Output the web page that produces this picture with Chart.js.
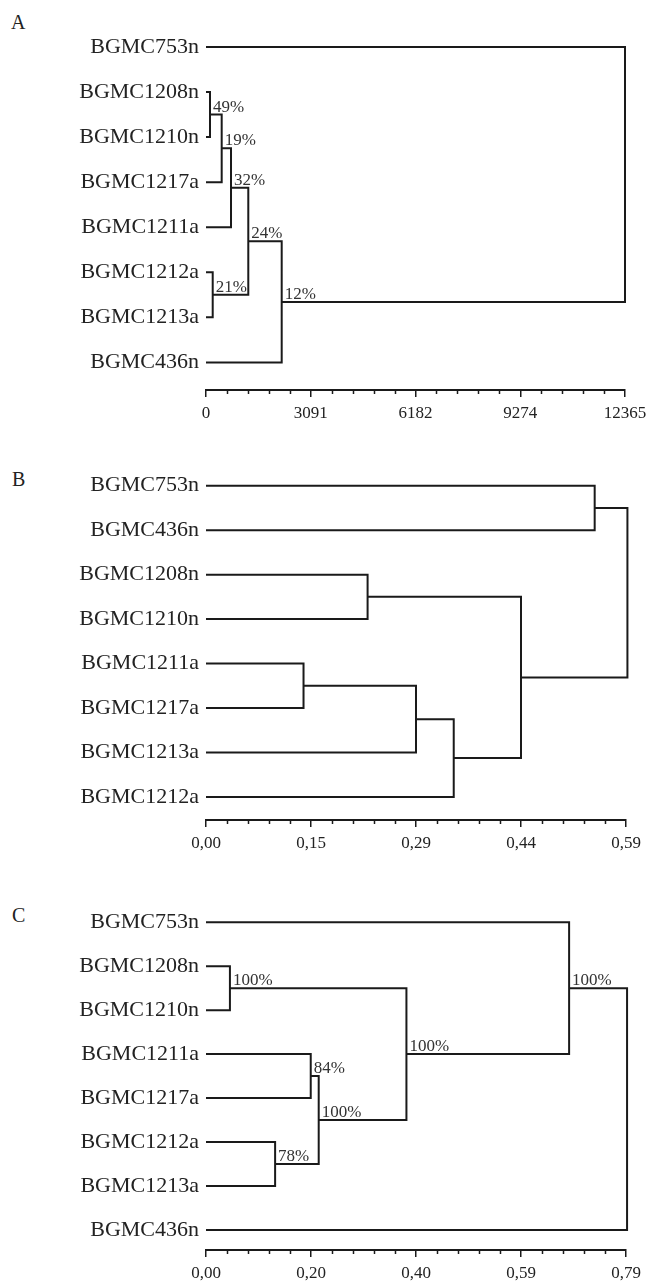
<!DOCTYPE html>
<html>
<head>
<meta charset="utf-8">
<script src="https://cdn.jsdelivr.net/npm/chart.js@4.4.0/dist/chart.umd.min.js"></script>
<style>
html,body{margin:0;padding:0;background:#ffffff;}
body{width:647px;height:1284px;position:relative;overflow:hidden;font-family:'Liberation Serif',serif;}
canvas{position:absolute;left:0;}
.letter{position:absolute;font-size:20px;line-height:1;color:#222;font-family:'Liberation Serif',serif;}
</style>
</head>
<body>
<div class="letter" style="left:11px;top:12px;">A</div>
<div class="letter" style="left:12px;top:469px;">B</div>
<div class="letter" style="left:12px;top:905px;">C</div>
<canvas id="cA" width="647" height="430" style="top:0px"></canvas>
<canvas id="cB" width="647" height="420" style="top:440px"></canvas>
<canvas id="cC" width="647" height="420" style="top:864px"></canvas>
<script>
// ---------- Panel A ----------
const leavesA = ['BGMC753n','BGMC1208n','BGMC1210n','BGMC1217a','BGMC1211a','BGMC1212a','BGMC1213a','BGMC436n'];
// merges: children indices (leaves 0..7, merged nodes 8..)
const mergesA = [[1,2],[8,3],[9,4],[5,6],[10,11],[12,7],[0,13]];
const heightsA = [118, 463, 738, 198, 1248, 2234, 12365];
const supportA = ['49%','19%','32%','21%','24%','12%',''];
const xMaxA = 12365;
const xLabelsA = ['0','3091','6182','9274','12365'];

// ---------- Panel B ----------
const leavesB = ['BGMC753n','BGMC436n','BGMC1208n','BGMC1210n','BGMC1211a','BGMC1217a','BGMC1213a','BGMC1212a'];
const mergesB = [[0,1],[2,3],[4,5],[10,6],[11,7],[9,12],[8,13]];
const heightsB = [0.546, 0.227, 0.137, 0.295, 0.348, 0.4425, 0.592];
const supportB = ['','','','','','',''];
const xMaxB = 0.59;
const xLabelsB = ['0,00','0,15','0,29','0,44','0,59'];

// ---------- Panel C ----------
const leavesC = ['BGMC753n','BGMC1208n','BGMC1210n','BGMC1211a','BGMC1217a','BGMC1212a','BGMC1213a','BGMC436n'];
const mergesC = [[1,2],[3,4],[5,6],[9,10],[8,11],[0,12],[13,7]];
const heightsC = [0.045, 0.197, 0.130, 0.212, 0.377, 0.683, 0.792];
const supportC = ['100%','84%','78%','100%','100%','100%',''];
const xMaxC = 0.79;
const xLabelsC = ['0,00','0,20','0,40','0,59','0,79'];

const LINE = '#1a1a1a';
const TEXT = '#222222';

function makeDendro(id, leaves, merges, heights, support, xMax, xLabels, geo) {
  const n = leaves.length;
  const ny = [], nx = [];
  for (let i = 0; i < n; i++) { ny[i] = i; nx[i] = 0; }
  merges.forEach((m, k) => {
    ny[n + k] = (ny[m[0]] + ny[m[1]]) / 2;
    nx[n + k] = heights[k];
  });
  const pts = [];
  merges.forEach((m, k) => {
    const h = heights[k], a = m[0], b = m[1];
    pts.push({x: nx[a], y: ny[a]}, {x: h, y: ny[a]}, {x: h, y: ny[b]}, {x: nx[b], y: ny[b]}, {x: null, y: null});
  });
  const chartTop = geo.padTop;
  const yMin = -(geo.leaf0 - chartTop) / geo.spacing;
  const yMax = yMin + (geo.axis - chartTop) / geo.spacing;
  const majors = xLabels.length - 1;
  const sub = 5;
  const nTicks = majors * sub;

  const extras = {
    id: 'extras_' + id,
    afterDraw(chart) {
      const ctx = chart.ctx, xs = chart.scales.x, ys = chart.scales.y;
      ctx.save();
      // minor ticks
      ctx.strokeStyle = LINE; ctx.lineWidth = 1.5;
      const bottom = chart.chartArea.bottom;
      for (let i = 0; i <= nTicks; i++) {
        if (i % sub === 0) continue;
        const px = Math.round(xs.getPixelForValue(xMax * i / nTicks)) + 0.5;
        ctx.beginPath(); ctx.moveTo(px, bottom); ctx.lineTo(px, bottom + 4); ctx.stroke();
      }
      // support labels
      ctx.fillStyle = '#333333';
      ctx.font = '17px "Liberation Serif", serif';
      ctx.textBaseline = 'alphabetic';
      ctx.textAlign = 'left';
      merges.forEach((m, k) => {
        if (!support[k]) return;
        const px = xs.getPixelForValue(heights[k]);
        const py = ys.getPixelForValue(ny[n + k]);
        ctx.fillText(support[k], px + 3, py - 3);
      });
      ctx.restore();
    }
  };

  return new Chart(document.getElementById(id), {
    type: 'scatter',
    data: { datasets: [{
      data: pts, showLine: true, borderColor: LINE, borderWidth: 2,
      pointRadius: 0, pointHoverRadius: 0, spanGaps: false, tension: 0,
      borderJoinStyle: 'miter', clip: false
    }]},
    options: {
      responsive: false, animation: false, events: [],
      layout: { padding: { top: geo.padTop, right: geo.padRight, left: 0, bottom: 0 } },
      plugins: { legend: { display: false }, tooltip: { enabled: false } },
      scales: {
        x: {
          type: 'linear', min: 0, max: xMax,
          afterBuildTicks: s => { s.ticks = Array.from({length: nTicks + 1}, (_, i) => ({ value: xMax * i / nTicks })); },
          afterFit: s => { s.height = geo.axisH; s.paddingRight = 0; s.paddingLeft = 0; },
          ticks: {
            autoSkip: false, maxRotation: 0, minRotation: 0, padding: 6,
            color: TEXT, font: { family: '"Liberation Serif", serif', size: 17 },
            callback: (v, i) => (i % sub === 0 ? xLabels[i / sub] : '')
          },
          grid: { display: true, drawOnChartArea: false, drawTicks: true, tickLength: 7,
                  lineWidth: 1.5, tickWidth: 1.5,
                  tickColor: c => (c.index % sub === 0 ? LINE : 'rgba(0,0,0,0)') },
          border: { display: true, color: LINE, width: 2 }
        },
        y: {
          type: 'linear', reverse: true, min: yMin, max: yMax,
          afterBuildTicks: s => { s.ticks = leaves.map((_, i) => ({ value: i })); },
          afterFit: s => { s.width = 206; },
          ticks: {
            autoSkip: false, padding: 7, color: TEXT,
            font: { family: '"Liberation Serif", serif', size: 22 },
            callback: v => leaves[Math.round(v)]
          },
          grid: { display: false, drawTicks: false },
          border: { display: false }
        }
      }
    },
    plugins: [extras]
  });
}

makeDendro('cA', leavesA, mergesA, heightsA, supportA, xMaxA, xLabelsA,
  { padTop: 2, padRight: 22, leaf0: 30, spacing: 47.3, axis: 390, axisH: 40 });
makeDendro('cB', leavesB, mergesB, heightsB, supportB, xMaxB, xLabelsB,
  { padTop: 20, padRight: 21, leaf0: 45.5, spacing: 44.5, axis: 380, axisH: 40 });
makeDendro('cC', leavesC, mergesC, heightsC, supportC, xMaxC, xLabelsC,
  { padTop: 20, padRight: 21, leaf0: 58, spacing: 44, axis: 386, axisH: 34 });
</script>
</body>
</html>
